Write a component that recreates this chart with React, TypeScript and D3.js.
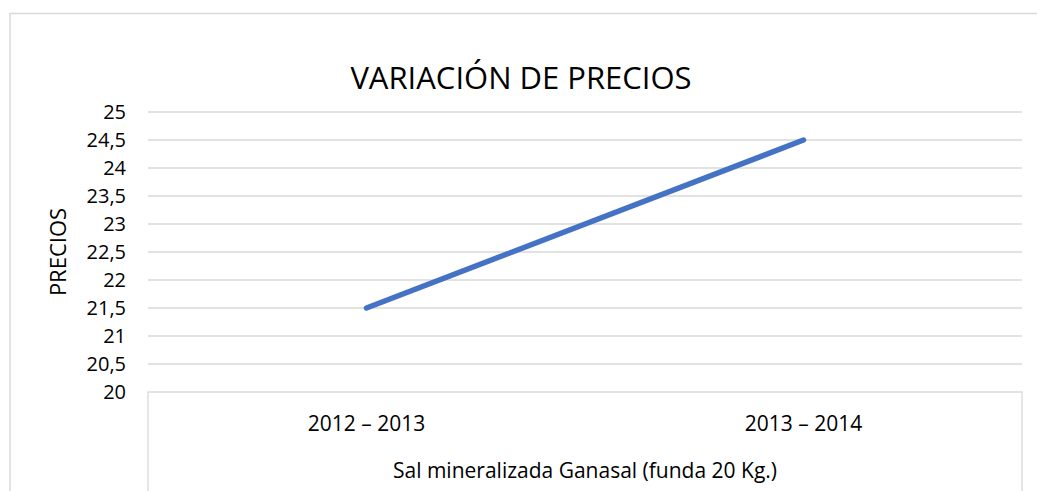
import React, { useEffect, useRef } from 'react';
import * as d3 from 'd3';

const categories = ['2012 – 2013', '2013 – 2014'];
const precios = [21.5, 24.5];
const yTicks = [20, 20.5, 21, 21.5, 22, 22.5, 23, 23.5, 24, 24.5, 25];
const chartTitle = 'VARIACIÓN DE PRECIOS';
const yTitle = 'PRECIOS';
const groupLabel = 'Sal mineralizada Ganasal (funda 20 Kg.)';

const W = 1037;
const H = 491;
const FONT = '"Open Sans", Calibri, sans-serif';

export default function App() {
  const ref = useRef<SVGSVGElement>(null);

  useEffect(() => {
    const svg = d3.select(ref.current).html('');
    const left = 148, right = 1022, top = 112, bottom = 392;

    const x = d3.scaleBand<string>().domain(categories).range([left, right]);
    const y = d3.scaleLinear().domain([20, 25]).range([bottom, top]);
    const fmt = (v: number) => String(v).replace('.', ',');

    // outer chart border
    svg.append('rect')
      .attr('x', 10).attr('y', 13.5)
      .attr('width', W + 20).attr('height', H)
      .attr('fill', '#fff').attr('stroke', '#d9d9d9').attr('stroke-width', 1.5);

    // gridlines
    svg.append('g').selectAll('line')
      .data(yTicks.filter(t => t !== 20))
      .enter().append('line')
      .attr('x1', left).attr('x2', right)
      .attr('y1', d => y(d)).attr('y2', d => y(d))
      .attr('stroke', '#d9d9d9').attr('stroke-width', 1.3);

    // y tick labels
    svg.append('g').selectAll('text')
      .data(yTicks)
      .enter().append('text')
      .attr('x', 126).attr('y', d => y(d))
      .attr('dy', '0.35em')
      .attr('text-anchor', 'end')
      .style('font-family', FONT).style('font-size', '20px')
      .attr('fill', '#000')
      .text(d => fmt(d));

    // category axis box (multi-level)
    svg.append('path')
      .attr('d', `M${left},${H + 2}V${bottom}H${right}V${H + 2}`)
      .attr('fill', 'none').attr('stroke', '#d9d9d9').attr('stroke-width', 1.3);

    svg.append('g').selectAll('text')
      .data(categories)
      .enter().append('text')
      .attr('x', d => (x(d) ?? 0) + x.bandwidth() / 2)
      .attr('y', 424).attr('dy', '0.35em')
      .attr('text-anchor', 'middle')
      .style('font-family', FONT).style('font-size', '21px')
      .text(d => d);

    svg.append('text')
      .attr('x', (left + right) / 2).attr('y', 471).attr('dy', '0.35em')
      .attr('text-anchor', 'middle')
      .style('font-family', FONT).style('font-size', '21px')
      .text(groupLabel);

    // series line
    const line = d3.line<number>()
      .x((_, i) => (x(categories[i]) ?? 0) + x.bandwidth() / 2)
      .y(d => y(d));
    svg.append('path')
      .datum(precios)
      .attr('d', line)
      .attr('fill', 'none')
      .attr('stroke', '#4472c4')
      .attr('stroke-width', 5.5)
      .attr('stroke-linecap', 'round');

    // title
    svg.append('text')
      .attr('x', 521).attr('y', 89)
      .attr('text-anchor', 'middle')
      .style('font-family', FONT).style('font-size', '31px')
      .attr('fill', '#000')
      .text(chartTitle);

    // y axis title
    svg.append('text')
      .attr('transform', `translate(58,252) rotate(-90)`)
      .attr('dy', '0.35em')
      .attr('text-anchor', 'middle')
      .style('font-family', FONT).style('font-size', '22px')
      .text(yTitle);
  }, []);

  return (
    <div style={{ position: 'fixed', left: 0, top: 0, width: W, height: H, background: '#fff' }}>
      <svg ref={ref} width={W} height={H} style={{ display: 'block' }} />
    </div>
  );
}
